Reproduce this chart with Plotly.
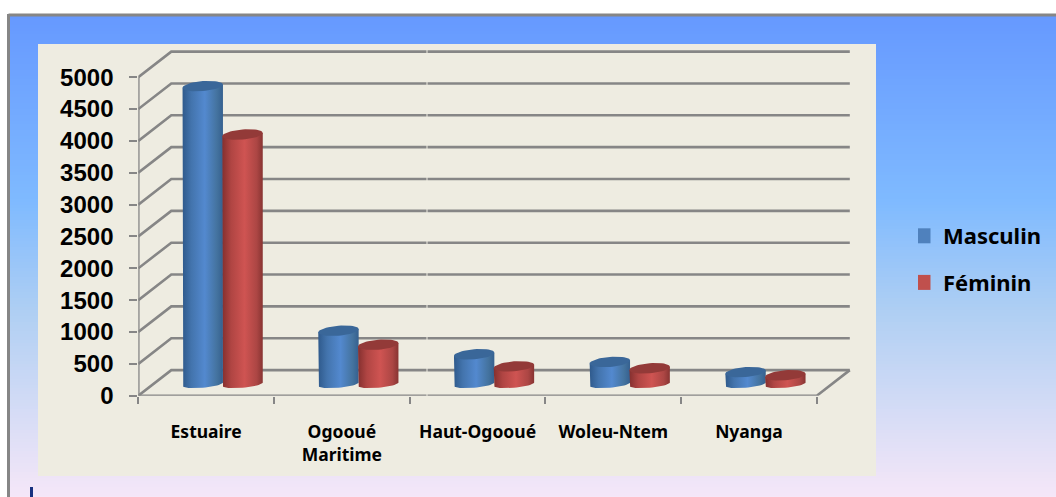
import math
import plotly.graph_objects as go

categories = ["Estuaire", "Ogooué<br>Maritime", "Haut-Ogooué", "Woleu-Ntem", "Nyanga"]
masculin = [4680, 840, 470, 350, 190]
feminin = [3920, 620, 280, 250, 140]
y_ticks = [0, 500, 1000, 1500, 2000, 2500, 3000, 3500, 4000, 4500, 5000]

W, H = 1056, 497
X0_PX, CAT_PX = 138.3, 135.7
Y0_PX, VAL_PX = 395.7, 0.0637
RIGHT_PX, TOP_PX = 851.7, 50.0
DEPTH_X_PX, DEPTH_Y_PX = 33.0, 25.6
BASE_PX = 11.5
RX_PX, RY_TOP, RY_BASE, TILT = 20.2, 5.0, 3.6, 1.6
GRID = "#868686"
PANEL = "#eeece1"

x_lo = -0.5
x_hi = x_lo + (RIGHT_PX - X0_PX) / CAT_PX
y_hi = (Y0_PX - TOP_PX) / VAL_PX
dcat = DEPTH_X_PX / CAT_PX
dval = DEPTH_Y_PX / VAL_PX
base_val = BASE_PX / VAL_PX
x_back_end = x_lo + 5 + dcat

stops = [(14, (102, 153, 255)), (200, (127, 186, 255)), (310, (175, 207, 243)), (497, (246, 231, 248))]


def grad(y):
    for (a, ca), (b, cb) in zip(stops, stops[1:]):
        if y <= b:
            t = max(0, (y - a) / (b - a))
            return "rgb(%d,%d,%d)" % tuple(round(p + (q - p) * t) for p, q in zip(ca, cb))
    return "rgb(246,231,248)"


shapes = [dict(type="rect", xref="paper", yref="paper", x0=8 / W, x1=1, y0=0, y1=1 - 14 / H,
               fillcolor=grad(14), line_width=0, layer="below")]
for y in range(16, H, 3):
    shapes.append(dict(type="rect", xref="paper", yref="paper", x0=8.5 / W, x1=1, y0=0, y1=1 - y / H,
                       fillcolor=grad(y), line_width=0, layer="below"))
shapes += [
    dict(type="line", xref="paper", yref="paper", x0=8.5 / W, x1=1, y0=1 - 15 / H, y1=1 - 15 / H,
         line=dict(color=GRID, width=3), layer="below"),
    dict(type="line", xref="paper", yref="paper", x0=8.5 / W, x1=8.5 / W, y0=0, y1=1 - 14 / H,
         line=dict(color=GRID, width=3), layer="below"),
    dict(type="rect", xref="paper", yref="paper", x0=38 / W, x1=876 / W, y0=1 - 476 / H, y1=1 - 44 / H,
         fillcolor=PANEL, line_width=0, layer="below"),
    dict(type="rect", xref="paper", yref="paper", x0=30 / W, x1=33 / W, y0=0, y1=1 - 487 / H,
         fillcolor="#17307f", line_width=0, layer="below"),
    dict(type="line", xref="paper", yref="paper", x0=427 / W, x1=427 / W, y0=1 - 400 / H, y1=1 - 46 / H,
         line=dict(color=PANEL, width=1), layer="above"),
]

fig = go.Figure()

gx, gy = [], []
for v in y_ticks:
    gx += [x_lo, x_lo + dcat, x_back_end, None]
    gy += [v, v + dval, v + dval, None]
gx += [x_lo, x_lo + 5, x_back_end, None, x_lo, x_lo, None]
gy += [0, 0, dval, None, 0, 5000, None]
fig.add_trace(go.Scatter(x=gx, y=gy, mode="lines", line=dict(color=GRID, width=2.6),
                         hoverinfo="skip", showlegend=False, cliponaxis=False))

palette = {
    "Masculin": dict(base="#4f81bd", top="#3a6799", ramp=[[0, "#2f5a8c"], [0.22, "#4374ad"], [0.55, "#5389cf"], [0.85, "#44739f"], [1, "#35608f"]]),
    "Féminin": dict(base="#c0504d", top="#933a38", ramp=[[0, "#85302f"], [0.22, "#b04543"], [0.55, "#cf5452"], [0.85, "#ac4644"], [1, "#883432"]]),
}
series = [("Masculin", masculin, -0.5), ("Féminin", feminin, 0.5)]
cat_idx = list(range(len(categories)))
mid = dcat / 2

for name, values, side in series:
    centers = [i + mid + side * (RX_PX * 2 - 0.6) / CAT_PX for i in cat_idx]
    fig.add_trace(go.Bar(x=centers, y=values, base=base_val, width=32 / CAT_PX,
                         marker=dict(color=palette[name]["base"], line_width=0),
                         name=name, showlegend=False))

for name, values, side in series:
    pal = palette[name]
    for i, v in zip(cat_idx, values):
        cx = i + mid + side * (RX_PX * 2 - 0.6) / CAT_PX
        rx = RX_PX / CAT_PX
        top = base_val + v
        tilt = TILT / VAL_PX
        bx, by = [cx - rx], [top - tilt]
        for k in range(0, 25):
            t = math.pi + math.pi * k / 24
            bx.append(cx + rx * math.cos(t))
            by.append(base_val + RY_BASE / VAL_PX * math.sin(t) + tilt * math.cos(t))
        bx.append(cx + rx)
        by.append(top + tilt)
        for k in range(0, 25):
            t = math.pi * k / 24
            bx.append(cx + rx * math.cos(t))
            by.append(top + tilt * math.cos(t))
        fig.add_trace(go.Scatter(x=bx, y=by, mode="lines", fill="toself", line=dict(width=0),
                                 fillgradient=dict(type="horizontal", colorscale=pal["ramp"]),
                                 hoverinfo="skip", showlegend=False))
        ex, ey = [], []
        for k in range(0, 49):
            t = 2 * math.pi * k / 48
            ex.append(cx + rx * math.cos(t))
            ey.append(top + RY_TOP / VAL_PX * math.sin(t) + tilt * math.cos(t))
        fig.add_trace(go.Scatter(x=ex, y=ey, mode="lines", fill="toself", line=dict(width=0),
                                 fillcolor=pal["top"], hoverinfo="skip", showlegend=False,
                                 cliponaxis=False))

for name, _, _ in series:
    fig.add_trace(go.Scatter(x=[None], y=[None], mode="markers", name=name, legendgroup=name,
                             marker=dict(symbol="square", size=15, color=palette[name]["base"])))

fig.update_layout(
    width=W, height=H, margin=dict(l=0, r=0, t=0, b=0, pad=0, autoexpand=False), autosize=False,
    paper_bgcolor="white", plot_bgcolor="rgba(0,0,0,0)", barmode="overlay", shapes=shapes,
    xaxis=dict(domain=[X0_PX / W, RIGHT_PX / W], range=[x_lo, x_hi], showgrid=False, zeroline=False,
               tickmode="array", tickvals=cat_idx, ticktext=categories, ticks="", showline=False,
               tickfont=dict(family="Noto Sans", size=17.5, color="black", weight=700),
               ticklabelstandoff=24, tickangle=0,
               minor=dict(tickmode="array", tickvals=[x_lo + k for k in range(6)], ticks="outside",
                          ticklen=7, tickwidth=2, tickcolor=GRID, showgrid=False)),
    yaxis=dict(domain=[1 - Y0_PX / H, 1 - TOP_PX / H], range=[0, y_hi], showgrid=False, zeroline=False,
               tickmode="array", tickvals=y_ticks, ticks="outside", ticklen=8, tickwidth=2, tickcolor=GRID,
               showline=False, ticklabelstandoff=11,
               tickfont=dict(family="Liberation Sans", size=24, color="black", weight=700)),
    legend=dict(x=918 / W, y=1 - 215 / H, xanchor="left", yanchor="top", bgcolor="rgba(0,0,0,0)",
                font=dict(family="Noto Sans", size=22, color="black", weight=700),
                tracegroupgap=15, itemwidth=30, indentation=-15),
)
fig.write_html("out.html", config=dict(displayModeBar=False),
               post_script="document.body.style.margin='0';document.documentElement.style.overflow='hidden';")
